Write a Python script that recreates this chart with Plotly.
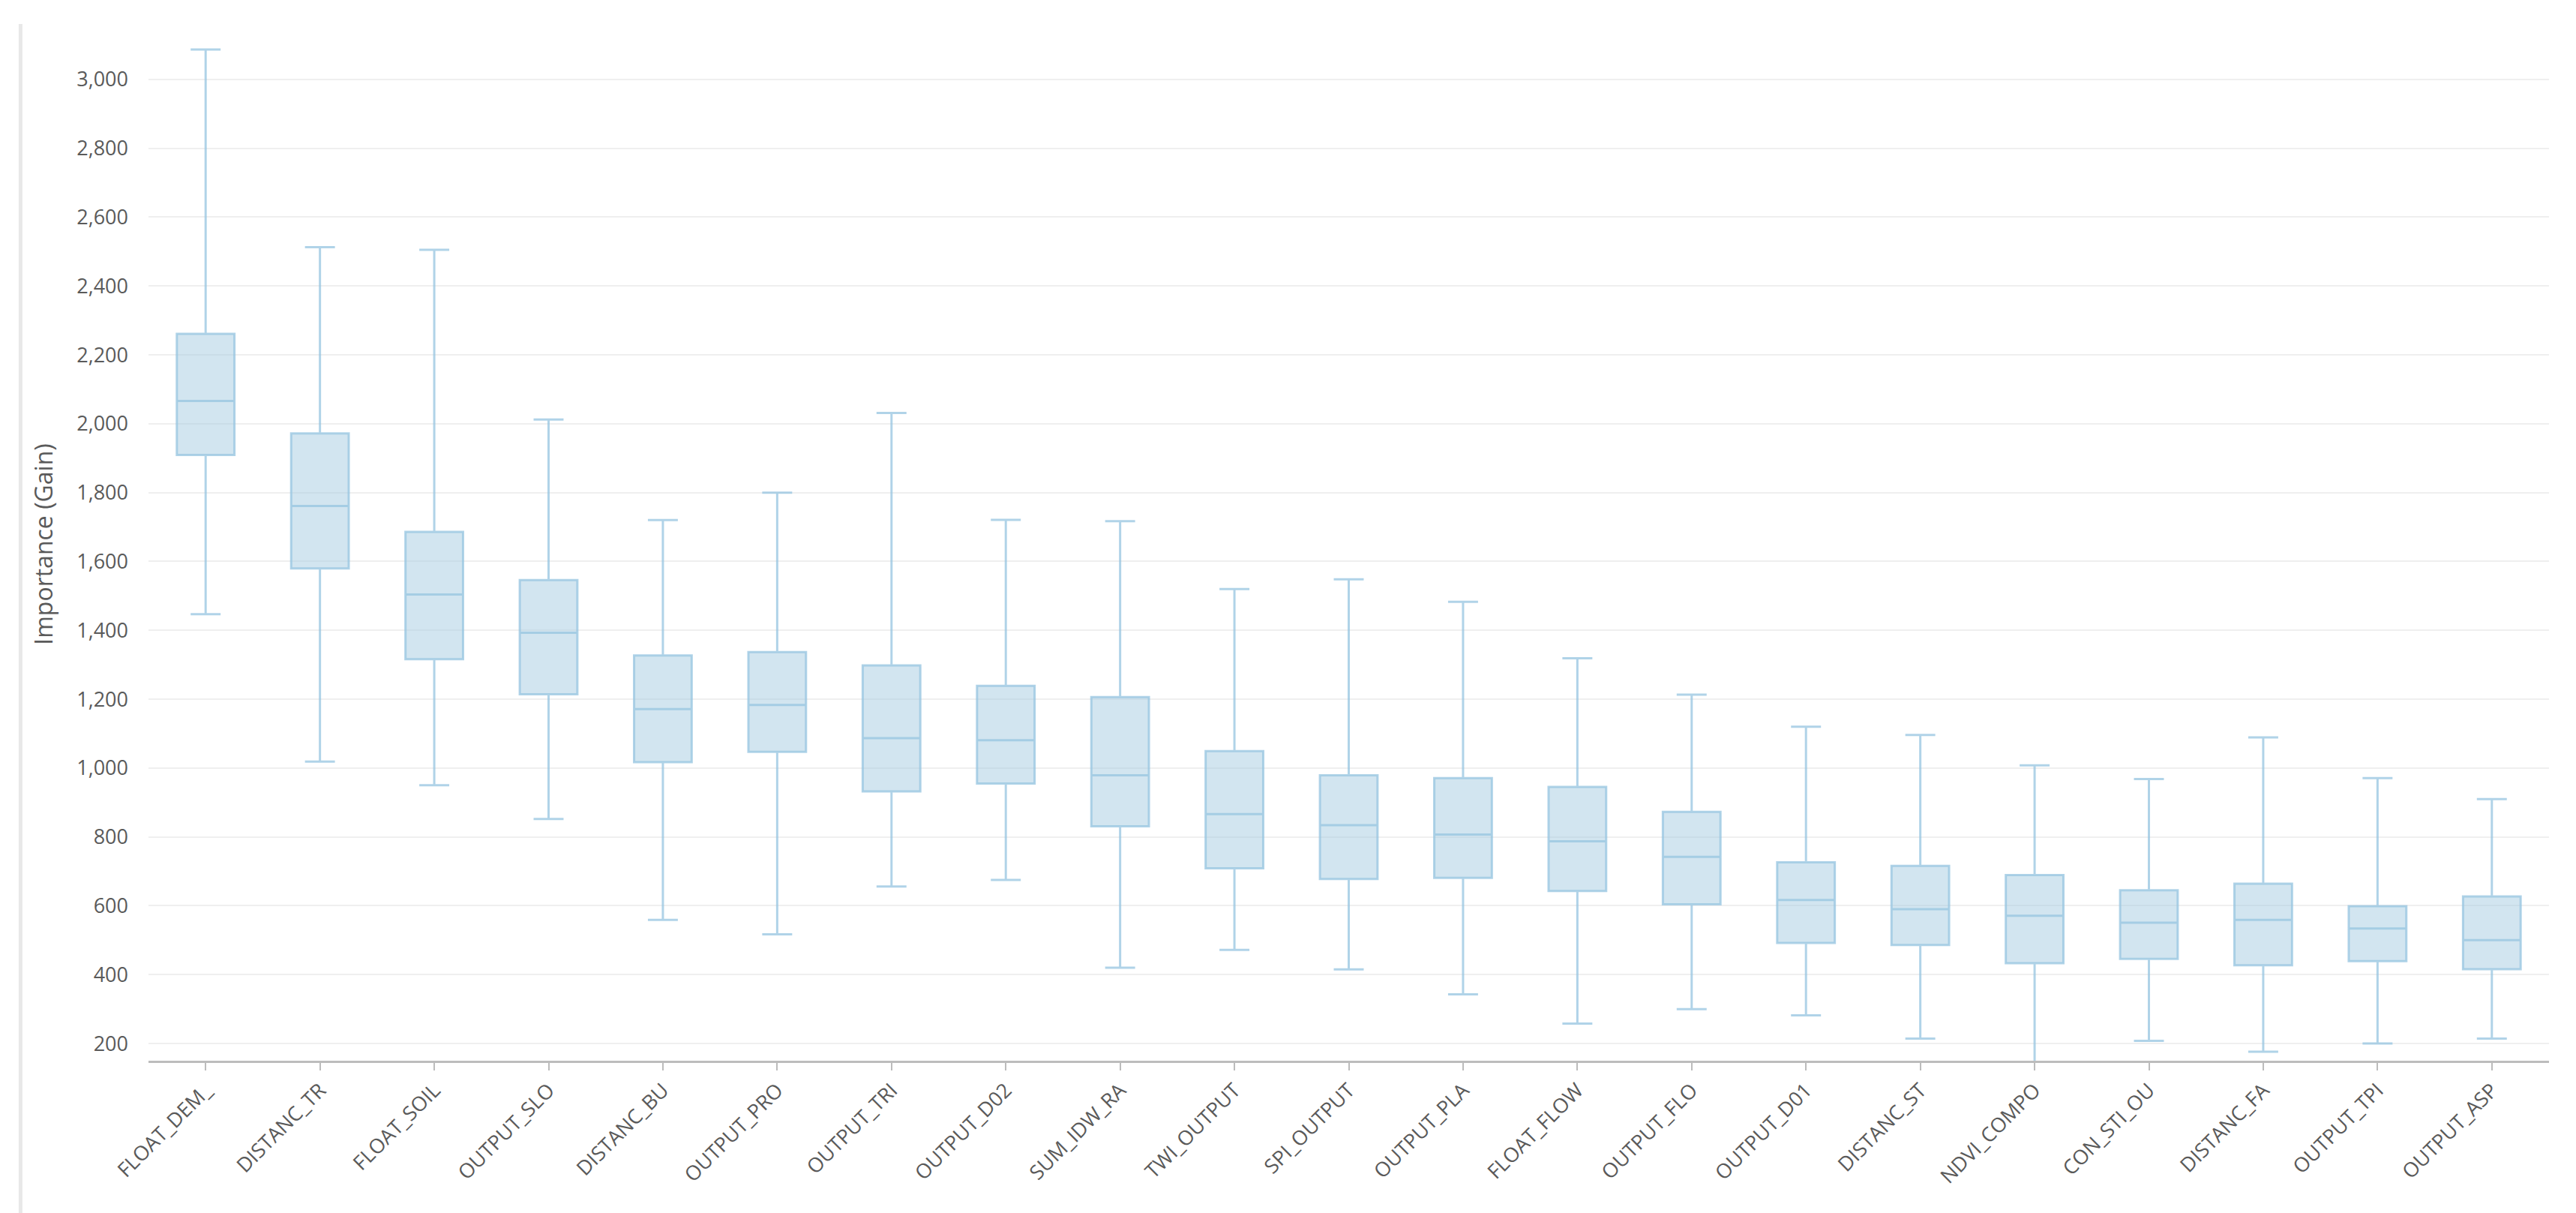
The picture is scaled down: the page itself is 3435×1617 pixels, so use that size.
import plotly.graph_objects as go

categories = ["FLOAT_DEM_", "DISTANC_TR", "FLOAT_SOIL", "OUTPUT_SLO", "DISTANC_BU", "OUTPUT_PRO",
              "OUTPUT_TRI", "OUTPUT_D02", "SUM_IDW_RA", "TWI_OUTPUT", "SPI_OUTPUT", "OUTPUT_PLA",
              "FLOAT_FLOW", "OUTPUT_FLO", "OUTPUT_D01", "DISTANC_ST", "NDVI_COMPO", "CON_STI_OU",
              "DISTANC_FA", "OUTPUT_TPI", "OUTPUT_ASP"]

upper_whisker = [3087, 2513, 2505, 2012, 1720, 1800, 2031, 1721, 1717, 1520, 1548, 1483,
                 1319, 1213, 1120, 1096, 1008, 968, 1089, 971, 910]
q3_values = [2261, 1972, 1686, 1546, 1327, 1337, 1298, 1239, 1206, 1049, 979, 971,
             945, 873, 726, 716, 689, 645, 664, 599, 627]
median_values = [2066, 1761, 1504, 1393, 1171, 1183, 1087, 1081, 979, 866, 834, 807,
                 787, 742, 617, 590, 571, 551, 559, 534, 500]
q1_values = [1909, 1580, 1316, 1214, 1017, 1047, 932, 955, 831, 709, 678, 681,
             643, 604, 492, 486, 433, 446, 427, 439, 416]
lower_whisker = [1447, 1019, 950, 852, 559, 517, 656, 675, 420, 472, 415, 343,
                 258, 300, 282, 214, 146, 208, 176, 200, 214]

y_ticks = list(range(200, 3001, 200))

fig = go.Figure()
fig.add_trace(go.Box(
    x=categories,
    q1=q1_values,
    median=median_values,
    q3=q3_values,
    lowerfence=lower_whisker,
    upperfence=upper_whisker,
    fillcolor="rgba(160,200,224,0.48)",
    line=dict(color="rgba(150,196,224,0.75)", width=3),
    whiskerwidth=0.52,
    boxpoints=False,
    showlegend=False,
))

font_family = "Open Sans, Noto Sans, sans-serif"

fig.update_layout(
    width=3427,
    height=1609,
    paper_bgcolor="white",
    plot_bgcolor="white",
    margin=dict(l=190, r=36, t=29, b=203),
    boxgap=0.28,
    font=dict(family=font_family, color="#5a5a5a", size=26),
    xaxis=dict(
        type="category",
        tickangle=-45,
        tickfont=dict(size=27, color="#5a5a5a"),
        showline=True,
        linecolor="#bcbcbc",
        linewidth=3,
        ticks="outside",
        ticklen=10,
        tickwidth=2,
        tickcolor="#bcbcbc",
        showgrid=False,
        range=[-0.5, len(categories) - 0.5],
    ),
    yaxis=dict(
        range=[150, 3150],
        tickvals=y_ticks,
        tickformat=",d",
        tickfont=dict(size=27, color="#5a5a5a"),
        showgrid=True,
        gridcolor="#efefef",
        gridwidth=2,
        zeroline=False,
        showline=False,
        ticks="",
        ticklabelstandoff=26,
        title=dict(text="Importance (Gain)", font=dict(size=32, color="#5a5a5a"), standoff=22),
    ),
    shapes=[dict(
        type="line", xref="paper", yref="paper",
        x0=-0.0533, x1=-0.0533, y0=1.0036, y1=-0.15,
        line=dict(color="#e8e8e8", width=5),
    )],
)

fig.write_html("out.html")
